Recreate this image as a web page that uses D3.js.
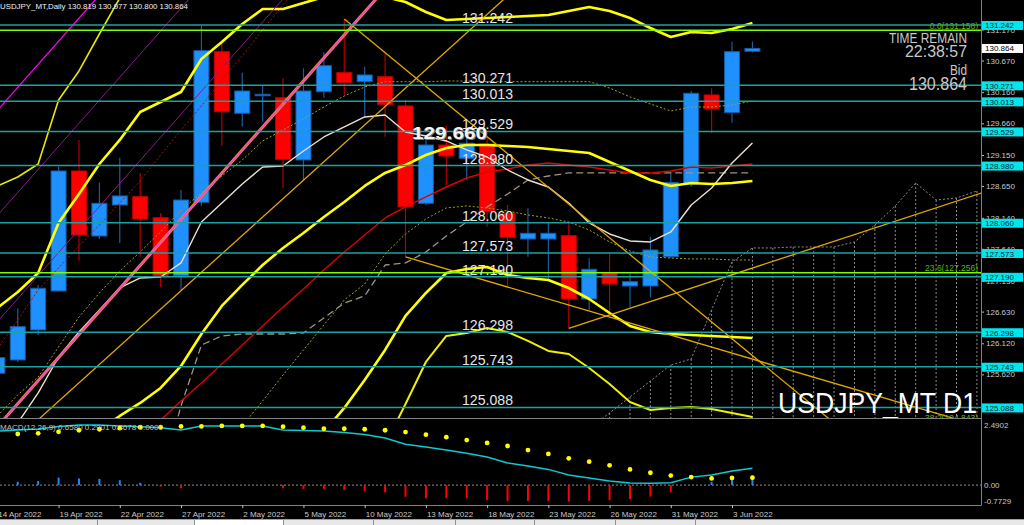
<!DOCTYPE html>
<html><head><meta charset="utf-8">
<script src="https://cdn.jsdelivr.net/npm/d3@7/dist/d3.min.js"></script>
<style>html,body{margin:0;padding:0;background:#000;overflow:hidden}svg{display:block;font-family:"Liberation Sans",Arial,sans-serif}</style>
</head><body>
<svg id="chart" width="1024" height="525"></svg>
<script>
// ---------------- DATA ----------------
const dates = ["14 Apr 2022","15 Apr 2022","18 Apr 2022","19 Apr 2022","20 Apr 2022","21 Apr 2022","22 Apr 2022","25 Apr 2022","26 Apr 2022","27 Apr 2022","28 Apr 2022","29 Apr 2022","2 May 2022","3 May 2022","4 May 2022","5 May 2022","6 May 2022","9 May 2022","10 May 2022","11 May 2022","12 May 2022","13 May 2022","16 May 2022","17 May 2022","18 May 2022","19 May 2022","20 May 2022","23 May 2022","24 May 2022","25 May 2022","26 May 2022","27 May 2022","30 May 2022","31 May 2022","1 Jun 2022","2 Jun 2022","3 Jun 2022","6 Jun 2022"];
const dateLabelIdx = [0,3,6,9,12,15,18,21,24,27,30,33,36];

const open  = [125.638,125.852,126.335,126.962,128.893,127.847,128.346,128.480,128.141,127.208,128.389,130.812,129.821,130.104,130.072,129.070,130.169,130.475,130.330,130.410,129.939,128.373,129.311,129.097,129.327,128.212,127.799,127.799,127.852,126.833,127.247,127.042,127.042,127.514,128.679,130.116,129.831,130.819];
const high  = [126.013,126.684,127.059,128.962,129.392,128.705,129.107,128.861,128.217,128.587,131.242,130.952,130.475,130.277,130.384,130.545,130.803,131.339,130.571,130.787,130.035,129.392,129.617,129.440,129.424,128.346,128.293,128.052,128.077,127.488,127.578,127.247,127.836,128.882,130.180,130.224,130.973,130.977];
const low   = [125.594,125.820,126.254,126.946,127.445,127.799,127.734,127.514,127.026,126.978,128.330,129.300,129.606,129.686,128.614,128.748,130.072,130.116,129.767,129.445,127.514,128.346,128.668,128.748,127.997,127.030,127.514,127.139,126.362,126.656,126.629,126.700,126.861,127.493,128.640,129.499,129.670,130.800];
const close = [125.889,126.388,127.006,128.893,127.863,128.373,128.491,128.120,127.208,128.426,130.829,129.847,130.180,130.127,129.081,130.180,130.587,130.314,130.438,129.966,128.318,129.311,129.134,129.339,128.238,127.826,127.890,127.890,126.833,127.311,127.075,127.112,127.622,128.708,130.143,129.891,130.812,130.864];

// moving averages / bands (one value per bar, null = not drawn)
const maFast = [124.323,124.838,125.321,125.900,126.302,126.656,127.010,127.171,127.187,127.413,128.072,128.378,128.684,128.957,128.973,129.215,129.440,129.601,129.762,129.794,129.520,129.456,129.376,129.231,129.118,128.909,128.748,128.635,128.378,128.056,127.879,127.767,127.751,127.911,128.346,128.619,129.022,129.343];
const maRed = [null,null,null,null,null,null,null,124.581,124.886,125.192,125.482,125.787,126.093,126.399,126.705,126.994,127.300,127.590,127.863,128.137,128.314,128.475,128.635,128.780,128.877,128.925,128.989,129.021,128.989,128.957,128.909,128.861,128.861,128.893,128.957,128.941,128.973,129.005];
const maRedDotted = [126.029,126.495,126.978,127.332,127.686,128.024,128.378,128.732,129.150,129.553,129.939,130.357,130.743,131.162,131.564,131.966];
const maDashed = [null,null,null,null,null,null,null,null,123.920,125.112,126.093,126.238,126.270,126.270,126.270,126.286,126.528,126.769,126.882,127.380,127.413,127.590,127.847,128.072,128.314,128.523,128.748,128.812,128.861,128.861,128.861,128.861,128.861,128.861,128.861,128.861,128.861,128.861];
const maOliveUpper = [124.951,125.289,125.578,126.061,126.544,126.930,127.284,127.590,127.911,128.265,128.539,128.812,129.070,129.376,129.553,129.730,129.923,130.100,130.244,130.330,130.330,130.330,130.340,130.340,130.330,130.330,130.330,130.330,130.330,130.330,130.228,130.084,129.971,129.858,129.923,129.923,129.955,130.019];
const maOliveLower = [null,null,null,null,null,null,null,null,null,null,null,null,124.790,125.192,125.610,126.013,126.415,126.817,127.075,127.557,127.879,128.121,128.298,128.330,128.298,128.249,128.185,128.137,128.072,127.944,127.751,127.606,127.509,127.493,127.477,127.477,127.461,127.461];
const bandUpper = [126.689,126.946,127.252,128.056,128.523,129.005,129.392,129.842,130.003,130.164,130.695,130.968,131.258,131.499,131.499,131.596,131.693,131.741,131.741,131.693,131.612,131.451,131.322,131.339,131.355,131.371,131.387,131.403,131.467,131.532,131.467,131.355,131.194,131.049,131.129,131.113,131.178,131.274];
const bandUpperThin = [128.652,128.796,129.005,130.035,130.502,131.097,131.676];
const bandMiddle = [null,null,null,null,124.484,124.726,124.951,125.160,125.401,125.755,126.270,126.721,127.059,127.380,127.654,127.895,128.153,128.394,128.652,128.861,128.989,129.150,129.263,129.311,129.311,129.295,129.279,129.247,129.215,129.182,129.038,128.893,128.748,128.652,128.700,128.684,128.700,128.732];
const bandLower = [null,null,null,null,null,null,null,null,null,null,null,null,null,null,null,null,124.693,125.080,125.530,126.013,126.560,126.930,127.252,127.316,127.348,127.219,127.171,127.139,127.010,126.833,126.608,126.399,126.302,126.270,126.254,126.238,126.222,126.206];
const bandLowerThin = [null,null,null,null,null,null,null,null,null,null,null,null,null,null,null,null,null,null,null,124.484,125.144,125.820,126.238,126.286,126.367,126.302,126.158,125.997,125.948,125.723,125.466,125.176,125.047,125.080,125.096,125.064,124.999,124.935];

// ichimoku span (bar index 29 .. 48)
const spanAStart = 29;
const spanA = [124.750,124.999,125.257,125.514,125.771,125.868,126.656,127.429,127.654,127.654,127.670,127.670,127.670,127.750,128.024,128.330,128.700,128.426,128.458,128.571];

// trend / channel lines: [barIndex, price] anchors
const trendGold1 = [[3,125.187],[24,131.413]];
const trendGold2 = [[17,131.339],[32,127.276]];
const trendGold3 = [[20,127.509],[33,126.252]];
const trendGold4 = [[28,126.362],[48,128.515]];
const chanMagenta = [[5,126.632],[18,131.453]];
const chanMagentaThin = [[0,129.868],[4,131.351]];
const chanPurple1 = [[0,128.177],[8,131.144]];
const chanPurple2 = [[5,128.322],[12,130.919]];

// horizontal levels
const levels = [131.242,130.271,130.013,129.529,128.980,128.060,127.573,127.190,126.298,125.743,125.088];
const fibLevels = [131.158,127.256,124.843];
const fibNames = ["0.0","23.6","38.2"];
const priceTicks = [131.170,130.670,130.160,129.660,129.150,128.650,128.140,127.640,127.130,126.630,126.120,125.620,125.110];
const bidPrice = 130.864;
const markPrice = 129.660;

// MACD panel
const macd = [2.10,2.14,2.18,2.28,2.33,2.33,2.30,2.27,2.23,2.14,2.30,2.30,2.30,2.30,2.14,2.12,2.10,2.04,1.97,1.83,1.59,1.48,1.36,1.24,1.09,0.86,0.74,0.61,0.39,0.28,0.16,0.08,0.07,0.09,0.31,0.39,0.55,0.658];
const signal = [null,1.985,2.01,2.07,2.13,2.17,2.21,2.25,2.25,2.28,2.28,2.30,2.30,2.30,2.27,2.23,2.19,2.19,2.17,2.13,2.06,1.96,1.86,1.75,1.64,1.52,1.36,1.21,1.04,0.91,0.77,0.61,0.48,0.37,0.31,0.26,0.28,0.29];
const hist = [0.10,0.13,0.16,0.29,0.26,0.24,0.19,0.09,-0.06,-0.12,0.02,0,0,0,-0.12,-0.15,-0.15,-0.19,-0.23,-0.28,-0.45,-0.51,-0.51,-0.51,-0.58,-0.62,-0.62,-0.62,-0.64,-0.61,-0.59,-0.54,-0.45,-0.28,0,0.13,0.29,0.3678];
const macdTicks = [2.4902,0,-0.7729];

const headerText = "USDJPY_MT,Daily 130.819 130.977 130.800 130.864";
const macdText = "MACD(12,26,9) 0.6580 0.2901 0.3678 0.0000";
const symbolText = "USDJPY_MT D1";
const timeTexts = ["TIME REMAIN","22:38:57","Bid","130.864"];

// ---------------- CHART ----------------
const PW = 981, PH = 418;
const svg = d3.select("#chart");
const x = d3.scaleLinear().domain([0.13,48.2]).range([0,PW]);
const y = d3.scaleLinear().domain([124.918,131.644]).range([PH,0]);
const ym = d3.scaleLinear().domain([-0.7729,2.4902]).range([505,421]);

svg.append("rect").attr("width",1024).attr("height",525).attr("fill","#000");
const defs = svg.append("defs");
defs.append("clipPath").attr("id","cm").append("rect").attr("x",0).attr("y",0).attr("width",PW).attr("height",PH);
defs.append("clipPath").attr("id","cd").append("rect").attr("x",0).attr("y",419).attr("width",PW).attr("height",86);

const g = svg.append("g").attr("clip-path","url(#cm)");
const series = (vals,start=0) => vals.map((v,k)=>[start+k,v]).filter(d=>d[1]!=null);
const lg = d3.line().x(d=>x(d[0])).y(d=>y(d[1]));
function drawLine(data,color,w,dash){
  g.append("path").attr("d",lg(data)).attr("fill","none").attr("stroke",color)
   .attr("stroke-width",w).attr("stroke-dasharray",dash||null).attr("stroke-linejoin","round");
}
function lineAt(pts,i){const [a,b]=pts;return a[1]+(b[1]-a[1])*(i-a[0])/(b[0]-a[0]);}
function fullLine(pts){return [[-5,lineAt(pts,-5)],[60,lineAt(pts,60)]];}
function ray(pts){return [[pts[0][0],pts[0][1]],[60,lineAt(pts,60)]];}

// ichimoku hatch
const spanData = series(spanA,spanAStart);
g.selectAll("line.hatch").data(spanData.filter(d=>d[0]>=30)).join("line").attr("class","hatch")
  .attr("x1",d=>x(d[0])).attr("x2",d=>x(d[0])).attr("y1",d=>y(d[1])).attr("y2",y(y.domain()[0]))
  .attr("stroke","#8c8c8c").attr("stroke-width",1).attr("stroke-dasharray","2,2");
drawLine(spanData,"#8c8c8c",1,"2,2");

// candles
const idx = d3.range(dates.length);
const up = i => close[i] >= open[i];
g.selectAll("line.wick").data(idx).join("line").attr("class","wick")
  .attr("x1",i=>x(i)).attr("x2",i=>x(i)).attr("y1",i=>y(high[i])).attr("y2",i=>y(low[i]))
  .attr("stroke",i=>up(i)?"#1d5a9e":"#b00000").attr("stroke-width",1.2);
const bw = 15;
g.selectAll("rect.body").data(idx).join("rect").attr("class","body")
  .attr("x",i=>x(i)-bw/2).attr("width",bw)
  .attr("y",i=>y(Math.max(open[i],close[i])))
  .attr("height",i=>Math.max(1.5,Math.abs(y(open[i])-y(close[i]))))
  .attr("fill",i=>up(i)?"#1e90ff":"#ff0000").attr("stroke",i=>up(i)?"#1a5aa0":"#c00000").attr("stroke-width",1);

// indicator lines
drawLine(series(maOliveLower),"#a0a020",1,"2,2");
drawLine(series(maOliveUpper),"#a0a020",1,"2,2");
drawLine(series(maRedDotted),"#a01414",1,"2,2");
drawLine(series(maDashed),"#a09484",1.3,"7,4");
drawLine(series(maRed),"#e00000",1.4);
drawLine(series(maFast),"#eee0d0",1.4);
drawLine(series(bandUpperThin),"#e8e800",1.6);
drawLine(series(bandLowerThin),"#f0f000",2);
drawLine(series(bandUpper),"#ffff00",2.6);
drawLine(series(bandMiddle),"#ffff00",2.6);
drawLine(series(bandLower),"#ffff00",2.6);

// channel & trend lines
drawLine(fullLine(chanPurple1),"#8b1a8b",1);
drawLine(fullLine(chanPurple2),"#8b1a8b",1);
drawLine(fullLine(chanMagentaThin),"#ff00ff",1.3);
drawLine(fullLine(chanMagenta),"#e0a000",3);
drawLine(fullLine(chanMagenta),"#ff33ff",1.6);
drawLine(fullLine(trendGold1),"#e0a800",1.3);
drawLine(ray(trendGold2),"#e0a800",1.3);
drawLine(ray(trendGold3),"#e0a800",1.3);
drawLine(ray(trendGold4),"#e0a800",1.3);

// horizontal levels
g.selectAll("line.lvl").data(levels).join("line").attr("class","lvl")
  .attr("x1",0).attr("x2",PW).attr("y1",d=>y(d)).attr("y2",d=>y(d))
  .attr("stroke","#1aa2a2").attr("stroke-width",1.5);
g.selectAll("line.fib").data(fibLevels).join("line").attr("class","fib")
  .attr("x1",0).attr("x2",PW).attr("y1",d=>y(d)).attr("y2",d=>y(d))
  .attr("stroke","#7cfc00").attr("stroke-width",1.6);
g.selectAll("text.fib").data(fibLevels).join("text").attr("class","fib")
  .attr("x",978).attr("y",d=>y(d)-1.5).attr("text-anchor","end")
  .attr("font-size",8.5).attr("fill","#5cb800")
  .text((d,k)=>fibNames[k]+"("+d.toFixed(3)+")");
g.selectAll("text.lvl").data(levels).join("text").attr("class","lvl")
  .attr("x",462).attr("y",d=>y(d)-2).attr("font-size",15).attr("fill","#e6e6e6")
  .attr("textLength",51).attr("lengthAdjust","spacingAndGlyphs")
  .text(d=>d.toFixed(3));

// bold price mark
g.append("text").attr("x",413).attr("y",y(markPrice)+17).attr("font-size",17).attr("font-weight","bold")
  .attr("fill","#777").attr("textLength",75).attr("lengthAdjust","spacingAndGlyphs").text(markPrice.toFixed(3));
g.append("text").attr("x",412).attr("y",y(markPrice)+16).attr("font-size",17).attr("font-weight","bold")
  .attr("fill","#f4f4f4").attr("textLength",75).attr("lengthAdjust","spacingAndGlyphs").text(markPrice.toFixed(3));

// info texts
const tt = [[timeTexts[0],15,43,78],[timeTexts[1],17,57,62],[timeTexts[2],14,74.5,17],[timeTexts[3],18,89.5,58]];
tt.forEach(t=>svg.append("text").attr("x",967).attr("y",t[2]).attr("text-anchor","end").attr("font-size",t[1])
  .attr("fill","#c8c8c8").attr("textLength",t[3]).attr("lengthAdjust","spacingAndGlyphs").text(t[0]));
g.append("text").attr("x",977).attr("y",413).attr("text-anchor","end").attr("font-size",30).attr("fill","#ffffff")
  .attr("textLength",199).attr("lengthAdjust","spacingAndGlyphs").text(symbolText);
svg.append("text").attr("x",0).attr("y",9).attr("font-size",8).attr("fill","#f0f0f0")
  .attr("textLength",188).attr("lengthAdjust","spacingAndGlyphs").text(headerText);

// right price axis
const ax = svg.append("g").attr("transform",`translate(${PW},0)`)
  .call(d3.axisRight(y).tickValues(priceTicks).tickSize(3).tickPadding(2).tickFormat(d3.format(".3f")));
ax.select(".domain").remove();
ax.selectAll("line").attr("stroke","#c0c0c0");
ax.selectAll("text").attr("fill","#c8c8c8").attr("font-size",8).attr("font-family","Liberation Sans, Arial");

// level boxes
const bx = svg.append("g");
bx.selectAll("rect").data(levels).join("rect").attr("x",982).attr("width",41).attr("y",d=>y(d)-4).attr("height",9).attr("fill","#00e5ee");
bx.selectAll("text").data(levels).join("text").attr("x",985).attr("y",d=>y(d)+3.5).attr("font-size",8).attr("fill","#0a2c2c").text(d=>d.toFixed(3));
svg.append("rect").attr("x",982).attr("width",41).attr("y",y(bidPrice)-4.5).attr("height",9).attr("fill","#ffffff");
svg.append("text").attr("x",985).attr("y",y(bidPrice)+3).attr("font-size",8).attr("fill","#000").text(bidPrice.toFixed(3));

// MACD panel
const gm = svg.append("g").attr("clip-path","url(#cd)");
gm.append("line").attr("x1",0).attr("x2",PW).attr("y1",ym(0)).attr("y2",ym(0)).attr("stroke","#909090").attr("stroke-dasharray","2,2");
gm.selectAll("rect.h").data(idx.filter(i=>hist[i]!==0)).join("rect").attr("class","h")
  .attr("x",i=>x(i)-1).attr("width",2).attr("y",i=>Math.min(ym(0),ym(hist[i])))
  .attr("height",i=>Math.abs(ym(hist[i])-ym(0))).attr("fill",i=>hist[i]>0?"#1e88f0":"#ff0000");
const lm = d3.line().x(d=>x(d[0])).y(d=>ym(d[1]));
gm.append("path").attr("d",lm(series(macd))).attr("fill","none").attr("stroke","#10c8d0").attr("stroke-width",1.5);
gm.selectAll("circle").data(series(signal)).join("circle").attr("cx",d=>x(d[0])).attr("cy",d=>ym(d[1])).attr("r",2.4).attr("fill","#ffff00");
svg.append("text").attr("x",0).attr("y",430).attr("font-size",8).attr("fill","#c0c0c0")
  .attr("textLength",163).attr("lengthAdjust","spacingAndGlyphs").text(macdText);
const mOff = [7,3,-1];
svg.selectAll("text.mt").data(macdTicks).join("text").attr("class","mt").attr("x",984)
  .attr("y",(d,k)=>ym(d)+mOff[k]).attr("font-size",8).attr("fill","#c8c8c8")
  .text(d=>d===0?"0.00":d.toFixed(4));

// borders
svg.append("line").attr("x1",0).attr("x2",PW).attr("y1",418.5).attr("y2",418.5).attr("stroke","#808080");
svg.append("line").attr("x1",0).attr("x2",PW).attr("y1",505.5).attr("y2",505.5).attr("stroke","#808080");
svg.append("line").attr("x1",PW+0.5).attr("x2",PW+0.5).attr("y1",0).attr("y2",505.5).attr("stroke","#808080");

// date axis
const dx = svg.append("g").attr("transform","translate(0,505)")
  .call(d3.axisBottom(x).tickValues(dateLabelIdx).tickSize(3).tickPadding(3).tickFormat(i=>dates[i]));
dx.select(".domain").remove();
dx.selectAll("line").attr("stroke","#c0c0c0");
dx.selectAll("text").attr("text-anchor","start").attr("x",0.5).attr("fill","#c8c8c8").attr("font-size",8).attr("font-family","Liberation Sans, Arial");

// bottom tab strip
const tabEdges = [0,97,194,283,373,455,534,615,695];
svg.append("rect").attr("x",0).attr("y",519).attr("width",1024).attr("height",6).attr("fill","#e8e8e8");
svg.append("line").attr("x1",0).attr("x2",1024).attr("y1",519.5).attr("y2",519.5).attr("stroke","#a0a0a0");
svg.append("rect").attr("x",194).attr("y",520).attr("width",89).attr("height",5).attr("fill","#ffffff");
svg.selectAll("line.tab").data(tabEdges.slice(1)).join("line").attr("class","tab")
  .attr("x1",d=>d+0.5).attr("x2",d=>d+0.5).attr("y1",520).attr("y2",525).attr("stroke","#909090");
</script></body></html>
